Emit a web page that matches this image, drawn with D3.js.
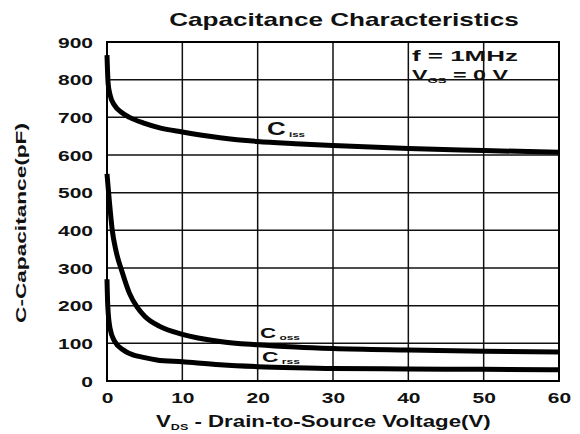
<!DOCTYPE html>
<html>
<head>
<meta charset="utf-8">
<script src="https://cdn.jsdelivr.net/npm/d3@7"></script>
<style>
  body { margin: 0; background: #fff; }
  svg { display: block; font-family: "Liberation Sans", Arial, sans-serif; font-weight: bold; }
</style>
</head>
<body>
<svg width="580" height="434"></svg>
<script>
// Values (V in volts, C in pF)
var xTicks = [0, 10, 20, 30, 40, 50, 60];
var yTicks = [0, 100, 200, 300, 400, 500, 600, 700, 800, 900];

var cissV = [0, 0.15, 0.4, 1, 2, 3, 5, 7, 10, 15, 20, 25, 30, 40, 50, 60];
var cissC = [865, 790, 760, 732, 712, 700, 684, 672, 661, 646, 636, 630, 625, 617, 612, 607];

var cossV = [0, 0.3, 0.7, 1.2, 2, 3, 4, 5, 7, 10, 15, 20, 25, 30, 40, 50, 60];
var cossC = [550, 480, 400, 345, 290, 232, 196, 172, 145, 124, 105, 96, 90, 86, 82, 79, 77];

var crssV = [0, 0.1, 0.4, 1, 2.2, 3, 5, 6.6, 10, 15, 20, 25, 30, 40, 50, 60];
var crssC = [270, 200, 140, 106, 82, 73, 62, 56, 51, 43, 38, 35, 33, 32, 31, 30];

var seriesNames = ["C", "C", "C"];
var seriesSubs = ["iss", "oss", "rss"];

function init() {
    var svg = d3.select("svg");
    var margin = {top: 42, right: 21, bottom: 53, left: 107},
        width = +svg.attr("width") - margin.left - margin.right,
        height = +svg.attr("height") - margin.top - margin.bottom;

    var x = d3.scaleLinear().domain([0, 60]).range([0, width]);
    var y = d3.scaleLinear().domain([0, 900]).range([height, 0]);

    var g = svg.append("g")
        .attr("transform", "translate(" + margin.left + "," + margin.top + ")");

    // The scan uses a very wide bold face; stretch text horizontally to fit
    function wideText(parent, parts, size, px, py, targetW, anchor, rot) {
        var t = parent.append("text")
            .attr("font-size", size)
            .attr("fill", "#111")
            .attr("text-anchor", anchor || "start");
        parts.forEach(function(p) {
            var s = t.append("tspan").text(p.text);
            if (p.sub) s.attr("font-size", p.sub).attr("dy", p.dy);
            else if (p.dy) s.attr("dy", p.dy);
        });
        var k = targetW / t.node().getComputedTextLength();
        t.attr("transform", "translate(" + px + "," + py + ")" +
            (rot ? "rotate(" + rot + ")" : "") + "scale(" + k + ",1)");
        return t;
    }

    // Grid
    g.selectAll("line.vgrid").data(xTicks).enter().append("line")
        .attr("class", "vgrid")
        .attr("x1", function(d) { return x(d); })
        .attr("x2", function(d) { return x(d); })
        .attr("y1", 0).attr("y2", height)
        .attr("stroke", "#111").attr("stroke-width", 1.5);

    g.selectAll("line.hgrid").data(yTicks).enter().append("line")
        .attr("class", "hgrid")
        .attr("x1", 0).attr("x2", width)
        .attr("y1", function(d) { return y(d); })
        .attr("y2", function(d) { return y(d); })
        .attr("stroke", "#111").attr("stroke-width", 1.5);

    g.append("rect")
        .attr("width", width).attr("height", height)
        .attr("fill", "none").attr("stroke", "#000").attr("stroke-width", 2);

    // Axes: only the tick labels are visible
    var xAxis = d3.axisBottom(x).tickValues(xTicks).tickSize(0).tickPadding(0);
    var yAxis = d3.axisLeft(y).tickValues(yTicks).tickSize(0).tickPadding(0);

    var gx = g.append("g").attr("class", "axis")
        .attr("transform", "translate(0," + height + ")")
        .call(xAxis);
    var gy = g.append("g").attr("class", "axis")
        .call(yAxis);
    g.selectAll(".axis path").remove();
    g.selectAll(".axis text")
        .attr("font-size", 14).attr("font-weight", "bold")
        .attr("font-family", "Liberation Sans, Arial, sans-serif")
        .attr("fill", "#111")
        .attr("dy", null);
    gx.selectAll(".tick text")
        .attr("y", 0)
        .attr("transform", "translate(0,22)scale(1.5,1)");
    gy.selectAll(".tick text")
        .attr("x", 0)
        .attr("transform", "translate(-14,5)scale(1.5,1)");

    // Curves
    var line = d3.line()
        .x(function(d) { return x(d[0]); })
        .y(function(d) { return y(d[1]); })
        .curve(d3.curveMonotoneX);

    var series = [d3.zip(cissV, cissC), d3.zip(cossV, cossC), d3.zip(crssV, crssC)];
    g.selectAll("path.curve").data(series).enter().append("path")
        .attr("class", "curve")
        .attr("d", line)
        .attr("fill", "none")
        .attr("stroke", "#000")
        .attr("stroke-width", 5)
        .attr("stroke-linecap", "butt");

    // Curve labels
    var labelPos = [[267, 135, 38, 18], [260, 338, 40, 15], [262, 362, 38, 15]];
    seriesNames.forEach(function(n, i) {
        var p = labelPos[i];
        wideText(svg, [{text: n}, {text: " " + seriesSubs[i], sub: 8, dy: 2}],
            p[3], p[0], p[1], p[2]);
    });

    // Test conditions
    wideText(svg, [{text: "f  =  1MHz"}], 14, 412, 61, 106);
    wideText(svg, [{text: "V"}, {text: "GS", sub: 8, dy: 3}, {text: " = 0 V", dy: -3}],
        14, 412, 80, 96);

    // Title
    wideText(svg, [{text: "Capacitance Characteristics"}], 19, 344, 26, 350, "middle");

    // X axis title
    wideText(svg, [{text: "V"}, {text: "DS", sub: 9, dy: 3},
        {text: " - Drain-to-Source Voltage(V)", dy: -3}], 16, 156, 427, 335);

    // Y axis title
    wideText(svg, [{text: "C-Capacitance(pF)"}], 14, 26, 223, 200, "middle", -90);
}
init();
</script>
</body>
</html>
